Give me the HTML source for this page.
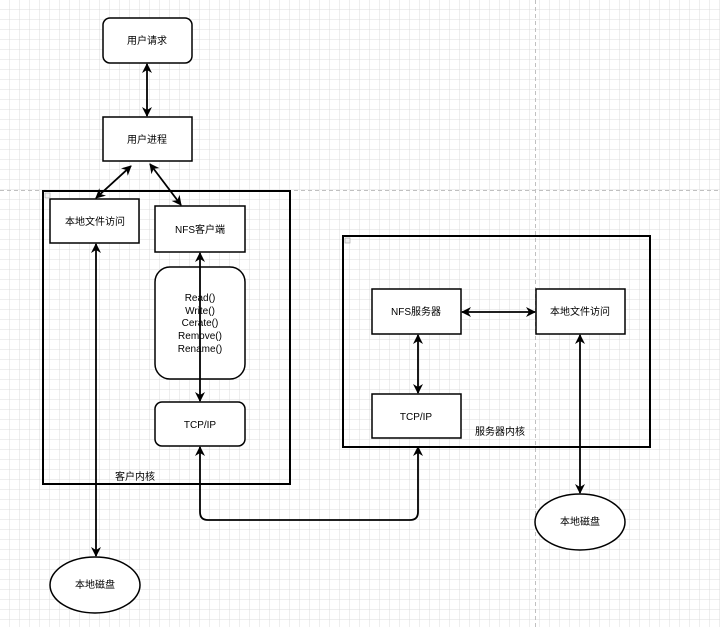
<!DOCTYPE html>
<html><head><meta charset="utf-8"><style>
html,body{margin:0;padding:0;background:#fff}
svg{display:block}
text{font-family:"Liberation Sans","Noto Sans CJK SC",sans-serif;font-size:10px;fill:#000}
</style></head><body>
<svg width="720" height="627" viewBox="0 0 720 627" xmlns="http://www.w3.org/2000/svg">
<defs>
<pattern id="g" width="10" height="10" patternUnits="userSpaceOnUse">
<path d="M10 0V10H0" fill="none" stroke="#dcdcdc" stroke-width="1"/>
</pattern>
<marker id="a" viewBox="0 0 10 10" refX="9" refY="5" markerWidth="10" markerHeight="10" orient="auto-start-reverse" markerUnits="userSpaceOnUse">
<path d="M0 0L10 5L0 10L3 5z" fill="#000"/>
</marker>
</defs>
<rect width="720" height="627" fill="url(#g)"/>
<line x1="0" y1="190.5" x2="720" y2="190.5" stroke="#c0c0c0" stroke-dasharray="4 3"/>
<line x1="535.5" y1="0" x2="535.5" y2="627" stroke="#c0c0c0" stroke-dasharray="4 3"/>
<g fill="#fff" stroke="#000" stroke-width="1.5">
<rect x="103" y="18" width="89" height="45" rx="7"/>
<rect x="103" y="117" width="89" height="44"/>
<rect x="43" y="191" width="247" height="293" fill="none" stroke-width="2"/>
<rect x="50" y="199" width="89" height="44"/>
<rect x="155" y="206" width="90" height="46"/>
<rect x="155" y="267" width="90" height="112" rx="15"/>
<rect x="155" y="402" width="90" height="44" rx="7"/>
<rect x="343" y="236" width="307" height="211" fill="none" stroke-width="2"/>
<rect x="372" y="289" width="89" height="45"/>
<rect x="536" y="289" width="89" height="45"/>
<rect x="372" y="394" width="89" height="44"/>
<ellipse cx="95" cy="585" rx="45" ry="28"/>
<ellipse cx="580" cy="522" rx="45" ry="28"/>
</g>
<rect x="45" y="193" width="5" height="5" fill="#eee" stroke="#aaa" stroke-width="0.7"/>
<rect x="345" y="238" width="5" height="5" fill="#eee" stroke="#aaa" stroke-width="0.7"/>
<g stroke="#000" stroke-width="1.8" fill="none" marker-start="url(#a)" marker-end="url(#a)">
<line x1="147" y1="64" x2="147" y2="116"/>
<line x1="131" y1="166" x2="96" y2="198"/>
<line x1="150" y1="164" x2="181" y2="205"/>
<line x1="96" y1="244" x2="96" y2="556"/>
<line x1="200" y1="253" x2="200" y2="401"/>
<path d="M200 447V512Q200 520 208 520H410Q418 520 418 512V447"/>
<line x1="462" y1="312" x2="535" y2="312"/>
<line x1="418" y1="335" x2="418" y2="393"/>
<line x1="580" y1="335" x2="580" y2="493"/>
</g>
<g text-anchor="middle">
<text x="147" y="44">用户请求</text>
<text x="147" y="143">用户进程</text>
<text x="95" y="225">本地文件访问</text>
<text x="200" y="233">NFS客户端</text>
<text x="200" y="301">Read()</text>
<text x="200" y="314">Write()</text>
<text x="200" y="326">Cerate()</text>
<text x="200" y="339">Remove()</text>
<text x="200" y="352">Rename()</text>
<text x="200" y="428">TCP/IP</text>
<text x="135" y="480">客户内核</text>
<text x="416" y="315">NFS服务器</text>
<text x="580" y="315">本地文件访问</text>
<text x="416" y="420">TCP/IP</text>
<text x="500" y="435">服务器内核</text>
<text x="95" y="588">本地磁盘</text>
<text x="580" y="525">本地磁盘</text>
</g>
</svg>
</body></html>
